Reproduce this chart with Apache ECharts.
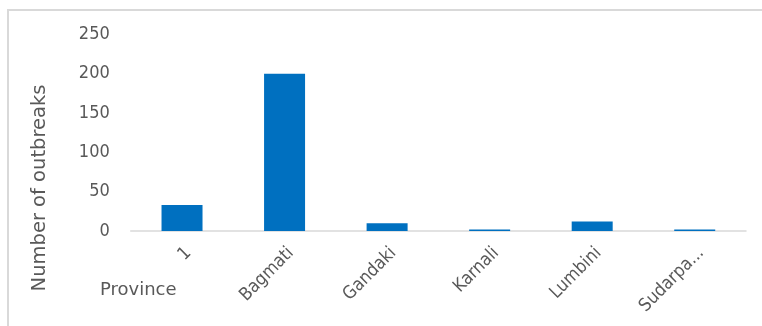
<!DOCTYPE html>
<html>
<head>
<meta charset="utf-8">
<style>html,body{margin:0;padding:0;background:#fff;overflow:hidden}#c{width:762px;height:326px}</style>
<script src="https://cdn.jsdelivr.net/npm/echarts@6/dist/echarts.min.js"></script>
</head>
<body>
<div id="c"></div>
<script>
const categories = ['1', 'Bagmati', 'Gandaki', 'Karnali', 'Lumbini', 'Sudarpa...'];
const outbreaks = [33, 200, 10, 2, 12, 2];
const yTicks = [0, 50, 100, 150, 200, 250];
const yName = 'Number of outbreaks';
const xName = 'Province';

const chart = echarts.init(document.getElementById('c'));
const font = '"DejaVu Sans Condensed", "DejaVu Sans", sans-serif';
chart.setOption({
  animation: false,
  graphic: [
    {type: 'line', shape: {x1: 8, y1: 9, x2: 8, y2: 330}, style: {stroke: '#d9d9d9', lineWidth: 2}, silent: true},
    {type: 'line', shape: {x1: 7, y1: 10, x2: 762, y2: 10}, style: {stroke: '#d9d9d9', lineWidth: 2}, silent: true},
    {type: 'text', x: 100, y: 281, style: {text: xName, fill: '#595959', font: '18px "DejaVu Sans", sans-serif'}},
    {type: 'text', x: 40, y: 188, rotation: Math.PI / 2,
      style: {text: yName, fill: '#595959', font: '19.5px "DejaVu Sans", sans-serif', align: 'center', verticalAlign: 'middle'}}
  ],
  grid: {left: 130.75, right: 16, top: 34.5, bottom: 95},
  xAxis: {
    type: 'category', data: categories,
    axisLine: {lineStyle: {color: '#d9d9d9', width: 1.5}},
    axisTick: {show: false},
    axisLabel: {rotate: 45, color: '#595959', fontFamily: font, fontSize: 18, margin: 13, interval: 0, verticalAlign: 'top'}
  },
  yAxis: {
    type: 'value', min: 0, max: 250, interval: 50,
    axisLine: {show: false}, axisTick: {show: false}, splitLine: {show: false},
    axisLabel: {color: '#595959', fontFamily: font, fontSize: 18, margin: 21,
      formatter: v => yTicks.includes(v) ? String(v) : ''}
  },
  series: [{type: 'bar', data: outbreaks, barWidth: 41, itemStyle: {color: '#0070c0'}}]
});
</script>
</body>
</html>
